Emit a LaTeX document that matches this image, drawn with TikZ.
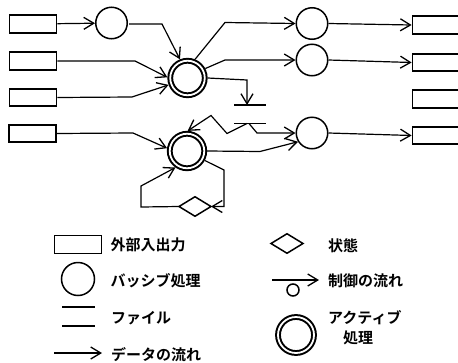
\documentclass[tikz,border=0pt]{standalone}
\usepackage{fontspec}
\newfontfamily\cjk{Noto Sans CJK JP}[BoldFont={Noto Sans CJK JP Bold}]
\usetikzlibrary{arrows.meta,shapes.geometric}
\tikzset{
  x=1pt,y=-1pt,
  flow/.style={line width=1.2pt,-{Straight Barb[length=10pt,width=12pt,line width=1.3pt]},line join=miter},
  io/.style={draw,line width=1.8pt,minimum width=47pt,minimum height=17.5pt,inner sep=0pt,outer sep=0.9pt},
  passive/.style={draw,circle,line width=1.5pt,minimum size=31.5pt,inner sep=0pt,outer sep=0.75pt},
  active/.style={draw,circle,line width=2pt,double,double distance=1.8pt,minimum size=34.5pt,inner sep=0pt,outer sep=2.9pt},
  state/.style={draw,diamond,aspect=1.65,line width=1.5pt,minimum width=32pt,minimum height=19.5pt,inner sep=0pt,outer sep=0pt},
  legend/.style={font=\cjk\bfseries\fontsize{15}{18}\selectfont,inner sep=0pt,anchor=west},
  fileline/.style={line width=1.5pt}
}
\begin{document}
\begin{tikzpicture}
\useasboundingbox (0,0) rectangle (458,362);
% left boxes
\node[io] (L1) at (33,24) {};
\node[io] (L2) at (33,61) {};
\node[io] (L3) at (33,97.5) {};
\node[io] (L4) at (32.5,133.5) {};
% right boxes
\node[io] (R1) at (436,25) {};
\node[io] (R2) at (436,62.5) {};
\node[io] (R3) at (436,99) {};
\node[io] (R4) at (436,135.5) {};
% circles
\node[passive] (C1) at (111.5,23) {};
\node[passive] (C2) at (312,23.5) {};
\node[passive] (C3) at (312,60) {};
\node[passive] (C4) at (312,133) {};
\node[active] (A1) at (187.5,78) {};
\node[active] (A2) at (187,151) {};
\node[state] (S) at (195,206.5) {};
% file
\coordinate (F1a) at (234,105);
\coordinate (F1b) at (266,105);
\coordinate (F2a) at (234,123.5);
\coordinate (F2b) at (266,123.5);
\coordinate (F1m) at (247,105);
\coordinate (F2m) at (247,123.5);
\coordinate (F2r) at (249,123.5);
\draw[fileline] (F1a) -- (F1b);
\draw[fileline] (F2a) -- (F2b);
% connectors
\draw[flow] (L1) -- (C1);
\draw[flow] (C1.east) ++(1,1) -- (162,24) -- (A1.112);
\draw[flow] (L2.east) -- (135,61) -- (A1.178);
\draw[flow] (L3.east) -- (132,97) -- (A1.200);
\draw[flow] (L4.east) -- (133,133) -- (A2.172);
\draw[flow] (A1.68) -- (225,22.5) -- (C2.west);
\draw[flow] (A1.28) -- (225,60) -- (C3.west);
\draw[flow] (A1.east) -- (247,80) -- (F1m);
\draw[flow] (C2.east) -- (R1.west);
\draw[flow] (C3.east) -- (R2.west);
\draw[flow] (C4.east) -- (R4.west);
\draw[flow] (F2r) -- (257,133) -- (C4.west);
\draw[flow] (F2m) -- (227,133.5) -- (211,115.5) -- (A2.88);
\draw[flow] (A2.east) -- (260,151.5) -- (C4.212);
\draw[flow] (A2.-28) -- (224,170) -- (224,206.5) -- (S.east);
\draw[flow] (S.west) -- (141,207) -- (141,186) -- (A2.235);
% legend
\node[io,minimum height=18pt] (Lg1) at (78,244.5) {};
\node[legend] (T1) at (110.5,245) {外部入出力};
\node[passive,minimum size=33pt] (Lg2) at (78,279) {};
\node[legend] (T2) at (110.5,281) {バッシブ処理};
\coordinate (Lg3a) at (62,307);
\coordinate (Lg3b) at (95,307);
\coordinate (Lg3c) at (62,326);
\coordinate (Lg3d) at (95,326);
\draw[fileline] (Lg3a) -- (Lg3b);
\draw[fileline] (Lg3c) -- (Lg3d);
\node[legend] (T3) at (111,318) {ファイル};
\coordinate (Lg4a) at (54,353);
\coordinate (Lg4b) at (102,353);
\draw[flow] (Lg4a) -- (Lg4b);
\node[legend] (T4) at (111,355) {データの流れ};
\node[state] (Lg5) at (287,243.5) {};
\node[legend] (T5) at (328,246) {状態};
\coordinate (Lg6a) at (272,280);
\coordinate (Lg6b) at (319,280);
\draw[flow] (Lg6a) -- (Lg6b);
\node[draw,circle,line width=1.5pt,minimum size=12pt,inner sep=0pt] (Lg6c) at (293,290) {};
\node[legend] (T6) at (328,281) {制御の流れ};
\node[active,minimum size=36pt] (Lg7) at (296,335) {};
\node[legend] (T7) at (328,318) {アクティブ};
\node[legend] (T8) at (343,338) {処理};
\end{tikzpicture}
\end{document}
